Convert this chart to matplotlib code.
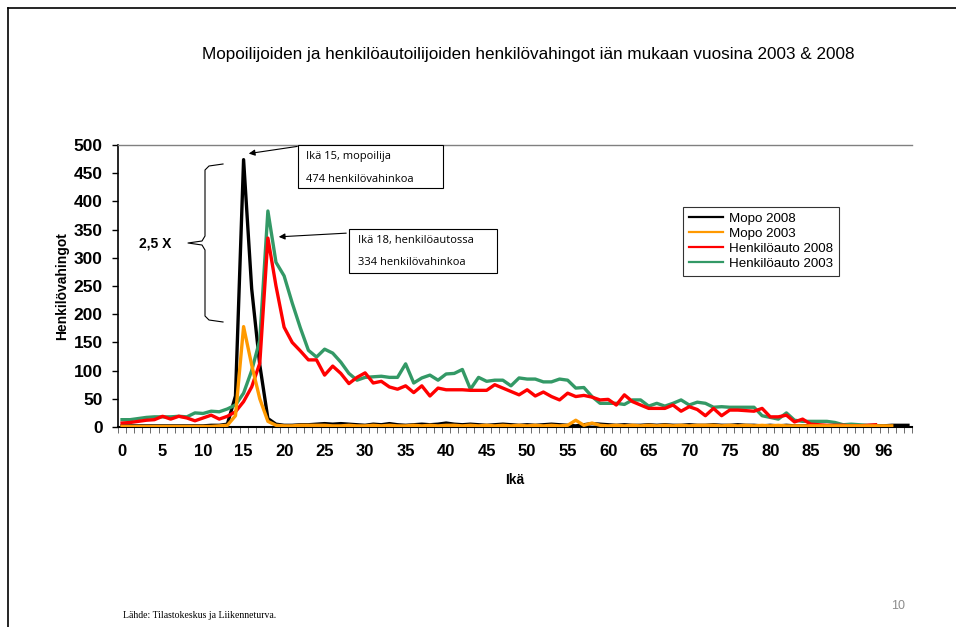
import numpy as np
import matplotlib
matplotlib.use("Agg")
import matplotlib.pyplot as plt
from matplotlib.lines import Line2D
from matplotlib.patches import Rectangle, FancyArrowPatch

# ---------------- data ----------------
ages = list(range(0, 98))
tick_positions = list(range(0, 91, 5)) + [94]
tick_labels = [str(v) for v in range(0, 91, 5)] + ["96"]

mopo_2008 = [2, 2, 2, 2, 2, 2, 2, 2, 2, 2, 2, 3, 3, 5, 55, 474, 245, 110, 15, 5,
             3, 3, 4, 4, 5, 6, 5, 6, 5, 4, 3, 5, 4, 6, 4, 3, 4, 5, 4, 5,
             7, 5, 4, 5, 4, 3, 4, 5, 4, 3, 4, 3, 4, 5, 4, 3, 2, 4, 6, 5,
             4, 3, 4, 3, 3, 4, 3, 4, 3, 3, 4, 3, 3, 4, 3, 3, 4, 3, 3, 2,
             3, 2, 3, 2, 2, 3, 2, 2, 2, 2, 2, 2, 2, 2, 2, 3, 3, 3]
mopo_2003 = [1, 1, 1, 1, 1, 1, 1, 1, 1, 1, 1, 1, 2, 3, 20, 178, 110, 50, 10, 3,
             2, 2, 3, 3, 3, 3, 2, 2, 3, 2, 2, 3, 2, 3, 2, 2, 3, 2, 3, 2,
             3, 3, 2, 3, 2, 3, 2, 3, 2, 3, 2, 3, 2, 3, 2, 3, 12, 3, 7, 3,
             2, 3, 2, 3, 2, 3, 2, 3, 2, 3, 2, 3, 3, 3, 2, 3, 2, 3, 2, 3,
             2, 3, 2, 2, 2, 2, 2, 2, 2, 2, 2, 2, 2, 2, 2, 2, np.nan, np.nan]
auto_2008 = [7, 8, 10, 12, 13, 19, 14, 19, 16, 11, 16, 21, 14, 19, 27, 45, 71, 113, 335, 250,
             177, 150, 135, 119, 119, 92, 108, 95, 77, 88, 96, 78, 81, 71, 67, 73, 61, 73, 55, 69,
             66, 66, 66, 65, 65, 65, 75, 69, 63, 57, 66, 55, 62, 54, 48, 60, 54, 56, 53, 48,
             49, 39, 57, 45, 39, 33, 33, 33, 39, 28, 36, 31, 20, 33, 20, 30, 30, 29, 28, 33,
             18, 18, 21, 9, 14, 5, 4, 3, 3, 3, 2, 2, 3, 4, np.nan, np.nan, np.nan, np.nan]
auto_2003 = [13, 13, 15, 17, 18, 18, 18, 19, 18, 25, 24, 28, 27, 32, 39, 60, 100, 154, 383, 292,
             268, 220, 176, 136, 124, 138, 131, 115, 95, 83, 88, 89, 90, 88, 88, 112, 78, 87, 92, 83,
             94, 95, 102, 67, 88, 81, 83, 83, 73, 87, 85, 85, 80, 80, 85, 83, 69, 70, 54, 42,
             42, 42, 40, 48, 48, 37, 42, 37, 42, 48, 39, 44, 42, 35, 36, 35, 35, 35, 35, 20,
             17, 14, 25, 12, 10, 10, 10, 10, 8, 4, 5, 4, 3, 3, np.nan, np.nan, np.nan, np.nan]

series_names = ["Mopo 2008", "Mopo 2003", "Henkilöauto 2008", "Henkilöauto 2003"]
series_colors = ["#000000", "#FF9900", "#FF0000", "#339966"]

plt.rcParams['font.family'] = ['Liberation Sans', 'DejaVu Sans']

W, H = 956, 627
fig = plt.figure(figsize=(W / 100, H / 100), dpi=100)

def fx(px):
    return px / W

def fy(py):
    return 1 - py / H

# slide frame (left and top edges)
fig.add_artist(Line2D([fx(8), fx(8)], [fy(627), fy(8)], color="black", lw=1.2))
fig.add_artist(Line2D([fx(8), fx(956)], [fy(8), fy(8)], color="black", lw=1.2))

ax = fig.add_axes([fx(118), fy(427), fx(912) - fx(118), fy(145) - fy(427)])

data = [mopo_2008, mopo_2003, auto_2008, auto_2003]
zorders = [2, 5, 4, 3]
for vals, name, col, z in zip(data, series_names, series_colors, zorders):
    ax.plot(ages, vals, color=col, lw=2.4, label=name, zorder=z, solid_joinstyle="round")

ax.set_xlim(-0.5, len(ages) - 0.5)
ax.set_ylim(0, 500)
ax.set_yticks(range(0, 501, 50))
ax.set_xticks(tick_positions)
ax.set_xticklabels(tick_labels)
ax.set_xticks(np.arange(-0.5, len(ages), 1), minor=True)
ax.tick_params(axis="x", which="major", length=0, pad=12, labelsize=12)
ax.tick_params(axis="x", which="minor", length=4, width=0.6, color="#555555", direction="out")
ax.tick_params(axis="y", which="major", length=4, width=1, direction="out", labelsize=12.5, pad=7)
for lab in ax.get_xticklabels() + ax.get_yticklabels():
    lab.set_fontweight("bold")

ax.spines["left"].set_linewidth(1.2)
ax.spines["bottom"].set_linewidth(1.5)
ax.spines["top"].set_color("#808080")
ax.spines["top"].set_linewidth(1.0)
ax.spines["right"].set_visible(False)

ax.set_xlabel("Ikä", fontsize=10, fontweight="bold", labelpad=10)
ax.set_ylabel("Henkilövahingot", fontsize=10, fontweight="bold", labelpad=3)

leg = ax.legend(loc="upper left", bbox_to_anchor=((676 - 118) / 794, (427 - 200) / 282),
                frameon=True, fancybox=False, edgecolor="black", fontsize=9.6,
                handlelength=2.6, handletextpad=0.4, borderpad=0.45, labelspacing=0.2)
leg.get_frame().set_linewidth(0.8)
for h in leg.get_lines():
    h.set_linewidth(1.6)

# title
fig.text(fx(528), fy(55), "Mopoilijoiden ja henkilöautoilijoiden henkilövahingot iän mukaan vuosina 2003 & 2008",
         ha="center", va="center", fontsize=12.3)

# annotation boxes
def box(x0, y0, x1, y1, lines):
    fig.add_artist(Rectangle((fx(x0), fy(y1)), fx(x1) - fx(x0), fy(y0) - fy(y1),
                             fill=True, facecolor="white", edgecolor="black", lw=0.8, zorder=10))
    for (tx, ty, s) in lines:
        fig.text(fx(tx), fy(ty), s, ha="left", va="center", fontsize=8, zorder=11,
                 family=["Open Sans", "DejaVu Sans"])

box(298, 145, 443, 188, [(306, 157, "Ikä 15, mopoilija"), (306, 180, "474 henkilövahinkoa")])
box(349, 229, 497, 273, [(358, 241, "Ikä 18, henkilöautossa"), (358, 263, "334 henkilövahinkoa")])

fig.add_artist(FancyArrowPatch((fx(300), fy(146)), (fx(246), fy(154)),
               transform=fig.transFigure, arrowstyle="-|>", mutation_scale=9, lw=0.8,
               color="black", zorder=12))
fig.add_artist(FancyArrowPatch((fx(349), fy(233)), (fx(276), fy(237)),
               transform=fig.transFigure, arrowstyle="-|>", mutation_scale=9, lw=0.8,
               color="black", zorder=12))

# brace
bx = [223, 209, 205, 205, 202, 188, 202, 205, 205, 209, 223]
by = [164, 166, 170, 236, 241, 243, 245, 250, 316, 320, 322]
fig.add_artist(Line2D([fx(v) for v in bx], [fy(v) for v in by], color="black", lw=0.8))
fig.text(fx(155), fy(244), "2,5 X", ha="center", va="center", fontsize=10, fontweight="bold")

# footer
fig.text(fx(123), fy(615), "Lähde: Tilastokeskus ja Liikenneturva.", ha="left", va="center",
         fontsize=7, family=["Liberation Serif", "DejaVu Serif"])
fig.text(fx(898), fy(606), "10", ha="center", va="center", fontsize=9, color="#8c8c8c")

fig.savefig("out.png", dpi=100)
